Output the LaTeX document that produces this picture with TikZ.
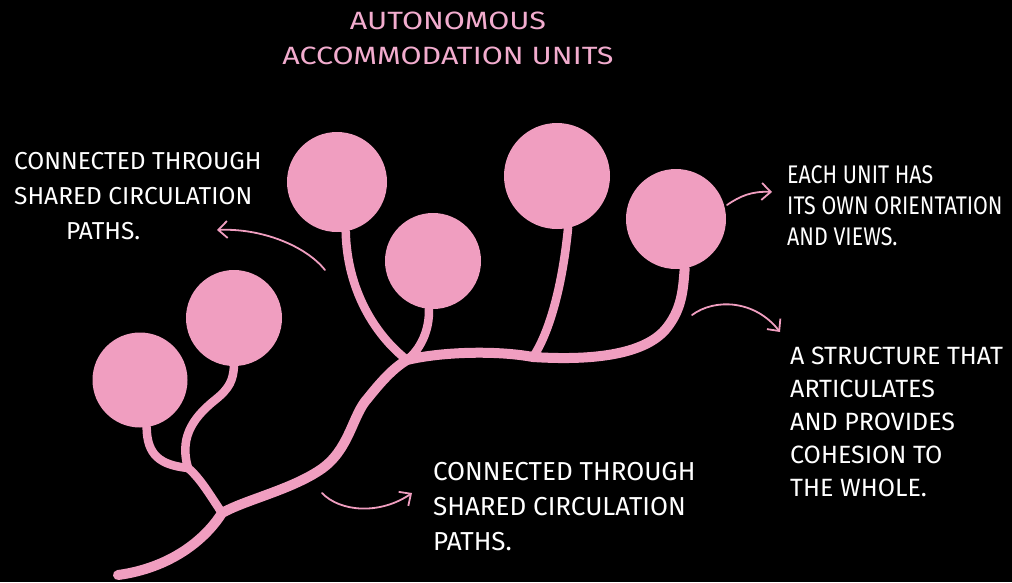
\documentclass[tikz,border=0pt]{standalone}
\usepackage{fontspec}
\setmainfont{Fira Sans}
\newfontfamily\titlefont[FakeStretch=1.22]{Fira Sans}
\newfontfamily\narrowfont[FakeStretch=0.84]{Fira Sans}
\usetikzlibrary{positioning,arrows.meta}
\definecolor{unitpink}{RGB}{240,158,192}
\definecolor{titlepink}{RGB}{242,172,206}

\begin{document}
\begin{tikzpicture}[x=1pt,y=-1pt,
  unit/.style={circle,fill=unitpink,inner sep=0pt},
  stem/.style={draw=unitpink,line width=8.5pt,line cap=round,line join=round},
  trunk/.style={stem,line width=10pt},
  arr/.style={draw=unitpink,line width=1.8pt,line cap=round,-{Straight Barb[length=9pt,width=17pt]}},
  note/.style={white,align=left,inner sep=0pt,anchor=north west}]
\fill[black] (0,0) rectangle (1012,582);
\useasboundingbox (0,0) rectangle (1012,582);

% the units
\node[unit,minimum size=95pt]  (u1) at (140,380) {};
\node[unit,minimum size=96pt]  (u2) at (234,318) {};
\node[unit,minimum size=100pt] (u3) at (337,182) {};
\node[unit,minimum size=96pt]  (u4) at (433,261) {};
\node[unit,minimum size=106pt] (u5) at (557,176) {};
\node[unit,minimum size=100pt] (u6) at (676,219) {};

% branching points
\coordinate (root) at (118,575);
\coordinate (jA) at (222,513);
\coordinate (jB) at (188,468);
\coordinate (jC) at (407,360);
\coordinate (jD) at (533,357);

% trunk
\draw[trunk] (root) .. controls (170,568) and (205,540) .. (jA)
  .. controls (245,500) and (290,490) .. (320,470)
  .. controls (350,450) and (352,415) .. (368,398)
  .. controls (380,383) and (393,368) .. (jC)
  .. controls (440,352) and (495,350) .. (jD)
  .. controls (580,360) and (640,358) .. (665,330)
  .. controls (682,310) and (683,290) .. (u6.-80);

% stems
\draw[stem] (jA) .. controls (210,495) and (200,478) .. (jB);
\draw[stem] (jB) .. controls (160,465) and (147,455) .. (u1.-82);
\draw[stem] (jB) .. controls (180,440) and (190,420) .. (215,400)
  .. controls (230,388) and (233,380) .. (u2.south);
\draw[stem] (jC) .. controls (375,335) and (347,290) .. (u3.-80);
\draw[stem] (jC) .. controls (420,350) and (430,330) .. (u4.-95);
\draw[stem] (jD) .. controls (548,335) and (562,290) .. (u5.-78);

% arrows
\coordinate (a1s) at (325,270); \coordinate (a1e) at (217,230);
\coordinate (a2s) at (727,205); \coordinate (a2e) at (772,192);
\coordinate (a3s) at (692,315); \coordinate (a3e) at (780,332);
\coordinate (a4s) at (322,493); \coordinate (a4e) at (412,493);
\draw[arr] (a1s) .. controls (305,245) and (260,228) .. (a1e);
\draw[arr] (a2s) .. controls (740,196) and (752,191) .. (a2e);
\draw[arr] (a3s) .. controls (715,298) and (755,300) .. (a3e);
\draw[arr] (a4s) .. controls (340,512) and (380,515) .. (a4e);

% texts
\node[titlepink,align=center,inner sep=0pt,anchor=north,
  font=\titlefont\fontsize{25}{35}\selectfont] (title) at (448,12)
  {AUTONOMOUS\\ACCOMMODATION UNITS};
\node[note,font=\fontsize{24.5}{35}\selectfont] (left) at (14,152)
  {CONNECTED THROUGH\\SHARED CIRCULATION\\\hspace*{52pt}PATHS.};
\node[note,font=\narrowfont\fontsize{25.5}{31}\selectfont] (views) at (787,165)
  {EACH UNIT HAS\\ITS OWN ORIENTATION\\AND VIEWS.};
\node[note,font=\fontsize{25}{33}\selectfont] (whole) at (790,347)
  {A STRUCTURE THAT\\ARTICULATES\\AND PROVIDES\\COHESION TO\\THE WHOLE.};
\node[note,font=\fontsize{26}{35}\selectfont] (paths) at (433,462)
  {CONNECTED THROUGH\\SHARED CIRCULATION\\PATHS.};
\end{tikzpicture}
\end{document}
